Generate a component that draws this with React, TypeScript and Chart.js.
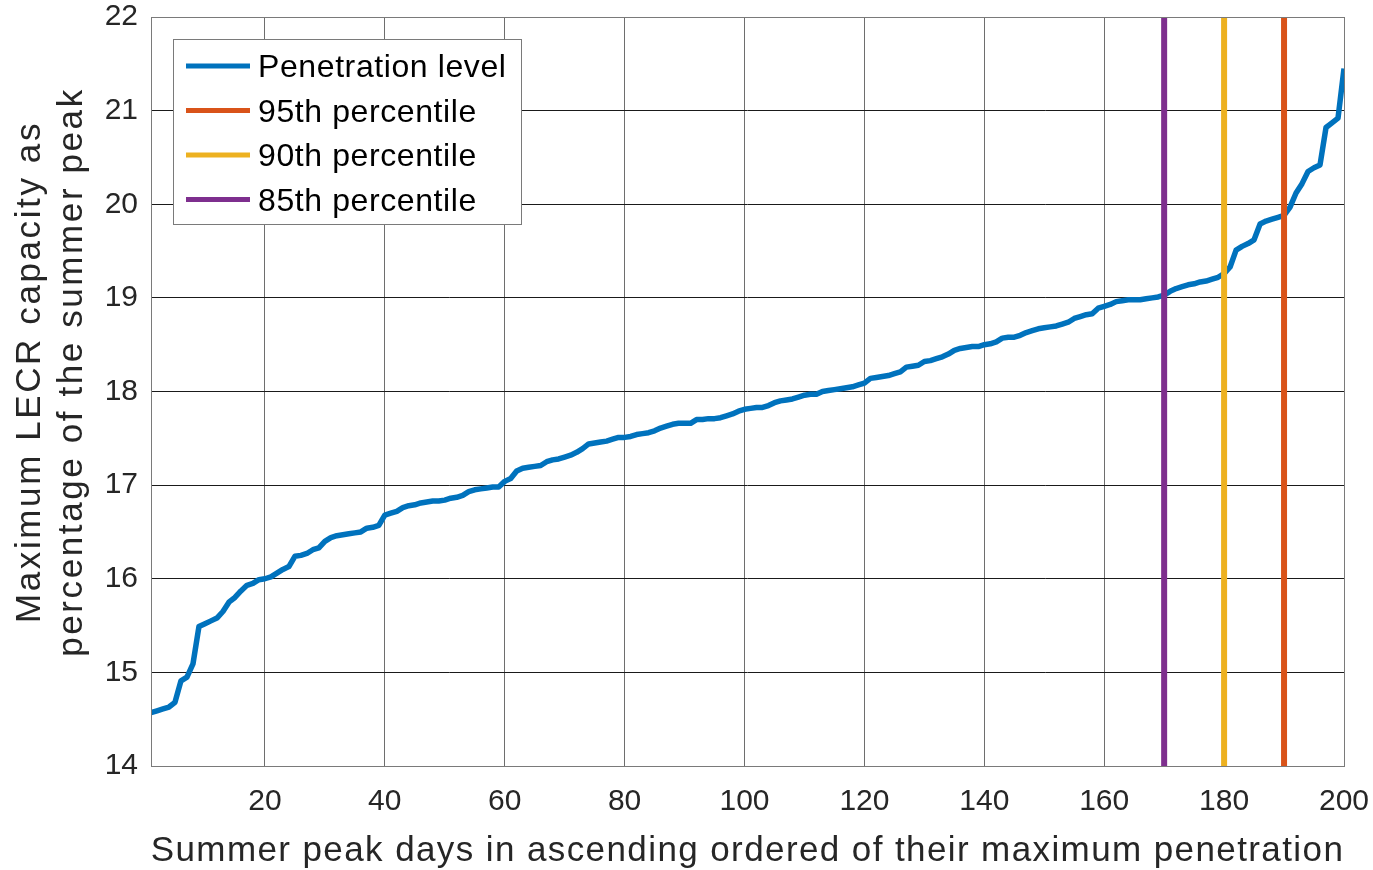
import React, { useEffect, useRef } from "react";
import { Chart, registerables } from "chart.js";

Chart.register(...registerables);

// Maximum LECR capacity (% of summer peak) for each of the 200 summer peak days, ascending
const penetration: number[] = [
  14.57, 14.59, 14.61, 14.63, 14.68, 14.91, 14.95, 15.09, 15.49, 15.52,
  15.55, 15.58, 15.65, 15.75, 15.80, 15.87, 15.93, 15.95, 15.99, 16.00,
  16.02, 16.06, 16.10, 16.13, 16.24, 16.25, 16.27, 16.31, 16.33, 16.40,
  16.44, 16.46, 16.47, 16.48, 16.49, 16.50, 16.54, 16.55, 16.57, 16.68,
  16.70, 16.72, 16.76, 16.78, 16.79, 16.81, 16.82, 16.83, 16.83, 16.84,
  16.86, 16.87, 16.89, 16.93, 16.95, 16.96, 16.97, 16.98, 16.98, 17.04,
  17.07, 17.15, 17.18, 17.19, 17.20, 17.21, 17.25, 17.27, 17.28, 17.30,
  17.32, 17.35, 17.39, 17.44, 17.45, 17.46, 17.47, 17.49, 17.51, 17.51,
  17.52, 17.54, 17.55, 17.56, 17.58, 17.61, 17.63, 17.65, 17.66, 17.66,
  17.66, 17.70, 17.70, 17.71, 17.71, 17.72, 17.74, 17.76, 17.79, 17.81,
  17.82, 17.83, 17.83, 17.85, 17.88, 17.90, 17.91, 17.92, 17.94, 17.96,
  17.97, 17.97, 18.00, 18.01, 18.02, 18.03, 18.04, 18.05, 18.07, 18.09,
  18.14, 18.15, 18.16, 18.17, 18.19, 18.21, 18.26, 18.27, 18.28, 18.32,
  18.33, 18.35, 18.37, 18.40, 18.44, 18.46, 18.47, 18.48, 18.48, 18.50,
  18.51, 18.53, 18.57, 18.58, 18.58, 18.60, 18.63, 18.65, 18.67, 18.68,
  18.69, 18.70, 18.72, 18.74, 18.78, 18.80, 18.82, 18.83, 18.89, 18.91,
  18.93, 18.96, 18.97, 18.98, 18.98, 18.98, 18.99, 19.00, 19.01, 19.03,
  19.07, 19.10, 19.12, 19.14, 19.15, 19.17, 19.18, 19.20, 19.22, 19.26,
  19.33, 19.51, 19.55, 19.58, 19.62, 19.79, 19.82, 19.84, 19.86, 19.88,
  19.97, 20.12, 20.22, 20.35, 20.39, 20.42, 20.82, 20.87, 20.92, 21.45,
];

const seriesLabel = "Penetration level";
const percentileLabels = ["95th percentile", "90th percentile", "85th percentile"];
const percentileDays = [190, 180, 170];
const percentileColors = ["#D95319", "#EDB120", "#7E2F8E"];
const seriesColor = "#0072BD";

const xTicks = [20, 40, 60, 80, 100, 120, 140, 160, 180, 200];
const yTicks = [14, 15, 16, 17, 18, 19, 20, 21, 22];
const xRange = [1, 200];
const yRange = [14, 22];

const xTitle = "Summer peak days in ascending ordered of their maximum penetration";
const yTitle = ["Maximum LECR capacity as", "percentage of the summer peak"];

const FONT = "'Liberation Sans', Arial, Helvetica, sans-serif";
const TEXT = "#262626";

const decorPlugin = {
  id: "boxLegendTitles",
  afterDraw(chart: any) {
    const { ctx, chartArea } = chart;
    ctx.save();
    // axes box
    ctx.strokeStyle = "#7a7a7a";
    ctx.lineWidth = 1;
    ctx.strokeRect(
      Math.round(chartArea.left) + 0.5,
      Math.round(chartArea.top) + 0.5,
      Math.round(chartArea.right - chartArea.left),
      Math.round(chartArea.bottom - chartArea.top)
    );

    // legend
    const lx = chartArea.left + 22;
    const ly = chartArea.top + 22;
    const lw = 348;
    const lh = 185;
    ctx.fillStyle = "#ffffff";
    ctx.fillRect(lx, ly, lw, lh);
    ctx.strokeStyle = "#7a7a7a";
    ctx.strokeRect(lx + 0.5, ly + 0.5, lw, lh);
    ctx.font = `32px ${FONT}`;
    ctx.letterSpacing = "0.6px";
    ctx.textBaseline = "alphabetic";
    ctx.textAlign = "left";
    chart.data.datasets.forEach((ds: any, i: number) => {
      const cy = ly + 27 + i * 44.5;
      ctx.strokeStyle = ds.borderColor;
      ctx.lineWidth = 5;
      ctx.beginPath();
      ctx.moveTo(lx + 13, cy);
      ctx.lineTo(lx + 77, cy);
      ctx.stroke();
      ctx.fillStyle = "#000000";
      ctx.fillText(ds.label, lx + 85, cy + 11);
    });

    // axis titles
    ctx.fillStyle = TEXT;
    ctx.textAlign = "center";
    ctx.textBaseline = "alphabetic";
    ctx.font = `35px ${FONT}`;
    ctx.letterSpacing = "1.4px";
    ctx.fillText(xTitle, (chartArea.left + chartArea.right) / 2, chartArea.bottom + 95);

    ctx.font = `35px ${FONT}`;
    ctx.letterSpacing = "2.6px";
    ctx.translate(chartArea.left - 111, 372);
    ctx.rotate(-Math.PI / 2);
    yTitle.forEach((line, i) => {
      ctx.fillText(line, 0, i * 42);
    });
    ctx.restore();
  },
};

export default function App() {
  const ref = useRef<HTMLCanvasElement | null>(null);

  useEffect(() => {
    if (!ref.current) return;
    const datasets: any[] = [
      {
        label: seriesLabel,
        data: penetration.map((v, i) => ({ x: i + 1, y: v })),
        borderColor: seriesColor,
        backgroundColor: seriesColor,
        borderWidth: 5.5,
        pointRadius: 0,
        tension: 0,
        order: 1,
        borderJoinStyle: "round",
      },
      ...percentileLabels.map((lab, k) => ({
        label: lab,
        data: [
          { x: percentileDays[k], y: yRange[0] },
          { x: percentileDays[k], y: yRange[1] },
        ],
        borderColor: percentileColors[k],
        backgroundColor: percentileColors[k],
        borderWidth: 6,
        pointRadius: 0,
        order: 0,
      })),
    ];

    const chart = new Chart(ref.current, {
      type: "line",
      data: { datasets },
      plugins: [decorPlugin],
      options: {
        animation: false,
        responsive: false,
        layout: { padding: { top: 17, right: 29, left: 0, bottom: 0 } },
        plugins: { legend: { display: false }, tooltip: { enabled: false } },
        scales: {
          x: {
            type: "linear",
            min: xRange[0],
            max: xRange[1],
            afterBuildTicks: (s: any) => {
              s.ticks = xTicks.map((v) => ({ value: v }));
            },
            afterFit: (s: any) => {
              s.height = 104;
              s.paddingLeft = 0;
              s.paddingRight = 0;
            },
            border: { display: false },
            grid: { color: "#6e6e6e", lineWidth: 1, drawTicks: false },
            ticks: {
              autoSkip: false,
              maxRotation: 0,
              padding: 18,
              color: TEXT,
              font: { family: FONT, size: 30 },
            },
            title: { display: false },
          },
          y: {
            type: "linear",
            min: yRange[0],
            max: yRange[1],
            afterBuildTicks: (s: any) => {
              s.ticks = yTicks.map((v) => ({ value: v }));
            },
            afterFit: (s: any) => {
              s.width = 151;
              s.paddingTop = 0;
              s.paddingBottom = 0;
            },
            border: { display: false },
            grid: { color: "#1a1a1a", lineWidth: 1, drawTicks: false },
            ticks: {
              padding: 13,
              color: TEXT,
              font: { family: FONT, size: 30 },
            },
            title: { display: false },
          },
        },
      },
    } as any);
    return () => chart.destroy();
  }, []);

  return (
    <div style={{ position: "fixed", left: 0, top: 0, width: 1373, height: 870, background: "#fff" }}>
      <canvas ref={ref} width={1373} height={870} style={{ width: 1373, height: 870, display: "block" }} />
    </div>
  );
}
